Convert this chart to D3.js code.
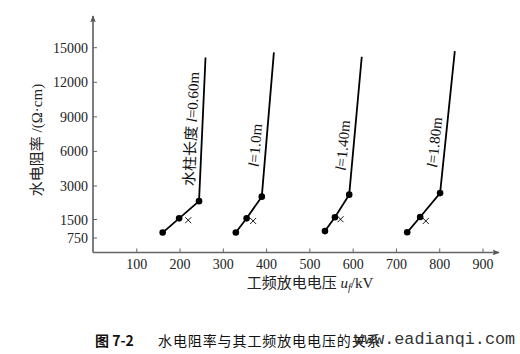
<!DOCTYPE html>
<html>
<head>
<meta charset="utf-8">
<script src="https://cdn.jsdelivr.net/npm/d3@7"></script>
<style>
  html, body { margin: 0; padding: 0; background: #fff; }
  svg { display: block; }
  .tick text { font-family: "Liberation Serif", serif; font-size: 14px; fill: #222; }
  .tick line { stroke: #666; stroke-width: 1; }
</style>
</head>
<body>
<script>
// length of the water column, one series per length
const lengths = ['0.60', '1.0', '1.40', '1.80'];
// power-frequency flashover voltage u_f (kV)
const voltage = [
  [161, 199, 245, 260],
  [330, 355, 390, 418],
  [536, 559, 592, 621],
  [726, 756, 802, 836]
];
// water resistivity (Ω·cm)
const resistivity = [
  [950, 1530, 2300, 14100],
  [950, 1530, 2500, 14550],
  [1010, 1580, 2590, 14170],
  [960, 1590, 2660, 14660]
];
// the single "x" marks beside the middle points
const crossVoltage = [220, 370, 572, 769];
const crossResistivity = [1450, 1420, 1490, 1420];

const xTicks = [100, 200, 300, 400, 500, 600, 700, 800, 900];
const yTicks = [750, 1500, 3000, 6000, 9000, 12000, 15000];

const W = 520, H = 354;

const svg = d3.select('body').append('svg')
  .attr('width', W).attr('height', H)
  .attr('viewBox', `0 0 ${W} ${H}`)
  .attr('xmlns', 'http://www.w3.org/2000/svg');

svg.append('rect').attr('width', W).attr('height', H).attr('fill', '#fff');

// arrow head for the axes
svg.append('defs').append('marker')
  .attr('id', 'arrow')
  .attr('viewBox', '0 0 10 10')
  .attr('refX', 9).attr('refY', 5)
  .attr('markerWidth', 7).attr('markerHeight', 7)
  .attr('markerUnits', 'userSpaceOnUse')
  .attr('orient', 'auto')
  .append('path')
    .attr('d', 'M0,1 L10,5 L0,9 L2,5 Z')
    .attr('fill', '#555');

const x = d3.scaleLinear().domain([0, 900]).range([93, 482.5]);
// the printed axis is not linear below 3000
const y = d3.scaleLinear()
  .domain([0, 750, 1500, 3000, 15000])
  .range([252.5, 237.5, 219, 185.5, 47.2]);

const x0 = x(0), y0 = y(0);

// axes lines with arrows
svg.append('line')
  .attr('x1', x0).attr('y1', y0)
  .attr('x2', x0).attr('y2', 16)
  .attr('stroke', '#666').attr('stroke-width', 1.7)
  .attr('marker-end', 'url(#arrow)');
svg.append('line')
  .attr('x1', x0).attr('y1', y0)
  .attr('x2', 499).attr('y2', y0)
  .attr('stroke', '#666').attr('stroke-width', 1.7)
  .attr('marker-end', 'url(#arrow)');

const gx = svg.append('g')
  .attr('transform', `translate(0, ${y0})`)
  .call(d3.axisBottom(x).tickValues(xTicks).tickFormat(d3.format('d'))
    .tickSizeInner(-4).tickSizeOuter(0).tickPadding(7));
gx.select('.domain').remove();

const gy = svg.append('g')
  .attr('transform', `translate(${x0}, 0)`)
  .call(d3.axisLeft(y).tickValues(yTicks).tickFormat(d3.format('d'))
    .tickSizeInner(-4).tickSizeOuter(0).tickPadding(5));
gy.select('.domain').remove();
gy.selectAll('.tick text').attr('dy', '0.36em');

// axis titles
svg.append('text')
  .attr('transform', 'translate(37, 140) rotate(-90)')
  .attr('text-anchor', 'middle')
  .attr('dy', '0.35em')
  .style('font-family', '"Liberation Serif", "Noto Sans CJK SC", serif')
  .style('font-size', '15px')
  .attr('fill', '#222')
  .text('水电阻率 /(Ω·cm)');

const xt = svg.append('text')
  .attr('x', 310).attr('y', 288)
  .attr('text-anchor', 'middle')
  .style('font-family', '"Liberation Serif", "Noto Sans CJK SC", serif')
  .style('font-size', '15px')
  .attr('fill', '#222');
xt.append('tspan').text('工频放电电压 ');
xt.append('tspan').style('font-style', 'italic').text('u');
xt.append('tspan').style('font-style', 'italic').style('font-size', '10px').attr('dy', 3).text('f');
xt.append('tspan').attr('dy', -3).text('/kV');

// series
const line = d3.line().x(d => x(d[0])).y(d => y(d[1]));

lengths.forEach((len, i) => {
  const pts = voltage[i].map((v, j) => [v, resistivity[i][j]]);
  const g = svg.append('g');

  g.append('path')
    .attr('d', line(pts))
    .attr('fill', 'none')
    .attr('stroke', '#000')
    .attr('stroke-width', 1.8);

  g.selectAll('circle')
    .data(pts.slice(0, 3))
    .join('circle')
      .attr('cx', d => x(d[0]))
      .attr('cy', d => y(d[1]))
      .attr('r', 3.3)
      .attr('fill', '#000');

  // small x mark
  const cx = x(crossVoltage[i]), cy = y(crossResistivity[i]);
  g.append('path')
    .attr('d', `M${cx - 3},${cy - 3}L${cx + 3},${cy + 3}M${cx - 3},${cy + 3}L${cx + 3},${cy - 3}`)
    .attr('stroke', '#000').attr('stroke-width', 0.9);

  // label along the steep part
  const a = pts[2], b = pts[3];
  const ax = x(a[0]), ay = y(a[1]), bx = x(b[0]), by = y(b[1]);
  const t = i === 0 ? 0.5 : 0.35;
  const px = ax + (bx - ax) * t, py = ay + (by - ay) * t;
  const ang = Math.atan2(by - ay, bx - ax) * 180 / Math.PI;

  const lab = g.append('text')
    .attr('transform', `translate(${px}, ${py}) rotate(${ang})`)
    .attr('y', -11)
    .attr('dy', '0.35em')
    .attr('text-anchor', 'middle')
    .style('font-family', '"Liberation Serif", "Noto Sans CJK SC", serif')
    .style('font-size', '15px')
    .attr('fill', '#111');
  if (i === 0) lab.append('tspan').text('水柱长度 ');
  lab.append('tspan').style('font-style', 'italic').text('l');
  lab.append('tspan').text(`=${len}m`);
});

// caption
svg.append('text')
  .attr('x', 95).attr('y', 346)
  .style('font-family', '"Noto Sans CJK SC", sans-serif')
  .style('font-size', '14px')
  .style('font-weight', 'bold')
  .attr('fill', '#111')
  .text('图 7-2');
svg.append('text')
  .attr('x', 158).attr('y', 346)
  .style('font-family', '"Noto Sans CJK SC", sans-serif')
  .style('font-size', '14px')
  .style('letter-spacing', '0.9px')
  .attr('fill', '#111')
  .text('水电阻率与其工频放电电压的关系');

// watermark printed over the caption
svg.append('text')
  .attr('x', 354).attr('y', 344)
  .style('font-family', '"Liberation Mono", monospace')
  .style('font-size', '16.8px')
  .attr('fill', '#333')
  .text('www.eadianqi.com');
</script>
</body>
</html>
